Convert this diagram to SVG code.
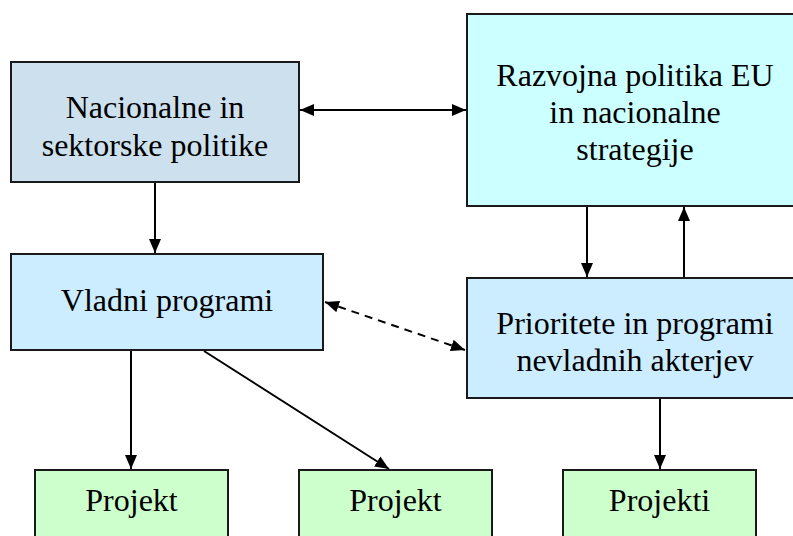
<svg xmlns="http://www.w3.org/2000/svg" width="793" height="536" viewBox="0 0 793 536">
  <style>
    .box { stroke: #1a1a1a; stroke-width: 2; }
    .t { font-family: 'Liberation Serif', 'Times New Roman', serif; font-size: 32px; fill: #000; text-anchor: middle; }
    .c { stroke: #000; stroke-width: 2; fill: none; }
    .d { stroke-dasharray: 8 6; }
  </style>
  <defs>
    <marker id="ah" viewBox="0 0 14 12" refX="14" refY="6" markerWidth="14" markerHeight="12" markerUnits="userSpaceOnUse" orient="auto-start-reverse">
      <path d="M0,0 L14,6 L0,12 Z" fill="#000"/>
    </marker>
  </defs>
  <rect width="793" height="536" fill="#fff"/>

  <g id="nacionalne">
    <rect class="box" x="11" y="62" width="288" height="120" fill="#CCE0EE"/>
    <text class="t" x="155" y="118">Nacionalne in</text>
    <text class="t" x="155" y="156">sektorske politike</text>
  </g>

  <g id="razvojna">
    <rect class="box" x="467" y="14" width="336" height="192" fill="#CCFFFF"/>
    <text class="t" x="635" y="86">Razvojna politika EU</text>
    <text class="t" x="635" y="123">in nacionalne</text>
    <text class="t" x="635" y="160">strategije</text>
  </g>

  <g id="vladni">
    <rect class="box" x="11" y="254" width="312" height="96" fill="#CCECFF"/>
    <text class="t" x="167" y="311">Vladni programi</text>
  </g>

  <g id="prioritete">
    <rect class="box" x="467" y="278" width="336" height="120" fill="#CCECFF"/>
    <text class="t" x="635" y="334">Prioritete in programi</text>
    <text class="t" x="635" y="371">nevladnih akterjev</text>
  </g>

  <g id="projekt1">
    <rect class="box" x="35" y="470" width="193" height="80" fill="#CCFFCC"/>
    <text class="t" x="131.5" y="511">Projekt</text>
  </g>

  <g id="projekt2">
    <rect class="box" x="299" y="470" width="193" height="80" fill="#CCFFCC"/>
    <text class="t" x="395.5" y="511">Projekt</text>
  </g>

  <g id="projekti">
    <rect class="box" x="563" y="470" width="193" height="80" fill="#CCFFCC"/>
    <text class="t" x="659.5" y="511">Projekti</text>
  </g>

  <g id="connectors">
    <line class="c" x1="300" y1="110" x2="466" y2="110" marker-start="url(#ah)" marker-end="url(#ah)"/>
    <line class="c" x1="155" y1="183" x2="155" y2="253" marker-end="url(#ah)"/>
    <line class="c" x1="587" y1="207" x2="587" y2="277" marker-end="url(#ah)"/>
    <line class="c" x1="684" y1="277" x2="684" y2="207" marker-end="url(#ah)"/>
    <line class="c d" x1="325" y1="302" x2="465" y2="350" marker-start="url(#ah)" marker-end="url(#ah)"/>
    <line class="c" x1="131" y1="351" x2="131" y2="469" marker-end="url(#ah)"/>
    <line class="c" x1="204" y1="351" x2="389" y2="469" marker-end="url(#ah)"/>
    <line class="c" x1="660" y1="399" x2="660" y2="469" marker-end="url(#ah)"/>
  </g>
</svg>
